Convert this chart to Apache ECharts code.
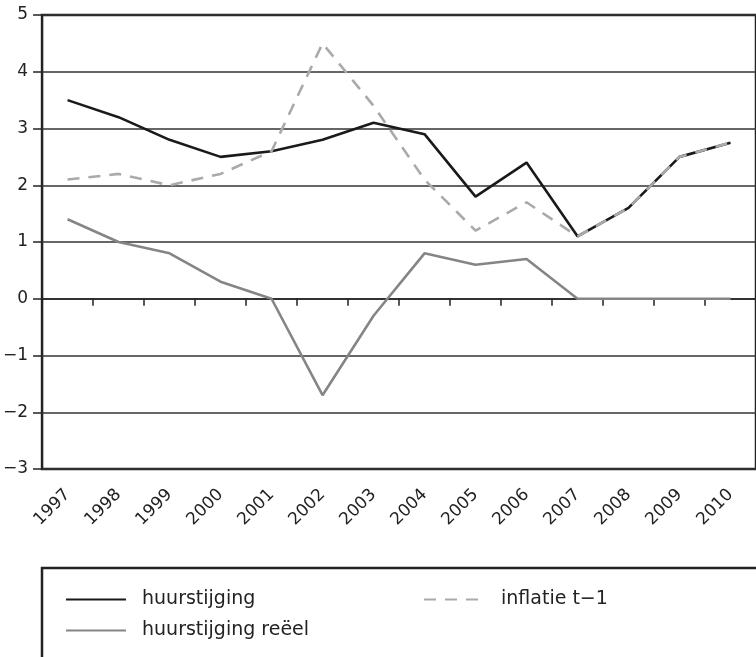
<!DOCTYPE html>
<html>
<head>
<meta charset="utf-8">
<script src="https://cdn.jsdelivr.net/npm/echarts@6/dist/echarts.min.js"></script>
<style>
html,body{margin:0;padding:0;background:#fff;}
#c{width:756px;height:657px;}
</style>
</head>
<body>
<div id="c"></div>
<script>
var years = ['1997','1998','1999','2000','2001','2002','2003','2004','2005','2006','2007','2008','2009','2010'];
var huurstijging = [3.5, 3.2, 2.8, 2.5, 2.6, 2.8, 3.1, 2.9, 1.8, 2.4, 1.1, 1.6, 2.5, 2.75];
var inflatie = [2.1, 2.2, 2.0, 2.2, 2.6, 4.5, 3.4, 2.1, 1.2, 1.7, 1.1, 1.6, 2.5, 2.75];
var reeel = [1.4, 1.0, 0.8, 0.3, 0.0, -1.7, -0.3, 0.8, 0.6, 0.7, 0.0, 0.0, 0.0, 0.0];
var yTicks = {min: -3, max: 5, interval: 1};
var names = ['huurstijging', 'huurstijging reëel', 'inflatie t−1'];

var FONT = 'DejaVu Sans';
var legendText = {fontSize: 19, fontFamily: FONT, color: '#222'};
var chart = echarts.init(document.getElementById('c'), null, {renderer: 'canvas'});
chart.setOption({
  animation: false,
  backgroundColor: '#fff',
  grid: {left: 42, top: 15, width: 719, height: 454, show: true, borderColor: '#222', borderWidth: 2.5, backgroundColor: 'transparent'},
  xAxis: [{
    type: 'category', data: years, boundaryGap: true, position: 'bottom',
    axisLine: {show: false, onZero: false},
    axisTick: {show: false},
    axisLabel: {rotate: 45, fontSize: 17, fontFamily: FONT, color: '#222', margin: 23, interval: 0},
    splitLine: {show: false}
  }, {
    type: 'category', data: years, boundaryGap: true, position: 'bottom',
    axisLine: {show: true, onZero: true, lineStyle: {color: '#222', width: 1.5}},
    axisTick: {show: true, length: 7, lineStyle: {color: '#222', width: 1.5}},
    axisLabel: {show: false},
    splitLine: {show: false}
  }],
  yAxis: {
    type: 'value', min: yTicks.min, max: yTicks.max, interval: yTicks.interval,
    axisLine: {show: false},
    axisTick: {show: true, length: 9, lineStyle: {color: '#222', width: 1.5}},
    axisLabel: {fontSize: 17, fontFamily: FONT, color: '#222', margin: 14,
      formatter: function (v) { return String(v).replace('-', '\u2212'); }},
    splitLine: {show: true, lineStyle: {color: '#333', width: 1.5}}
  },
  legend: [
    {data: [names[0]], left: 65, top: 590, padding: 0, itemWidth: 60, itemHeight: 14,
     itemStyle: {opacity: 0}, textStyle: Object.assign({padding: [0,0,0,11]}, legendText)},
    {data: [names[1]], left: 65, top: 621, padding: 0, itemWidth: 60, itemHeight: 14,
     itemStyle: {opacity: 0}, textStyle: Object.assign({padding: [0,0,0,11]}, legendText)},
    {data: [names[2]], left: 423, top: 590, padding: 0, itemWidth: 56, itemHeight: 14,
     itemStyle: {opacity: 0}, textStyle: Object.assign({padding: [0,0,0,16]}, legendText)}
  ],
  graphic: [{type: 'rect', shape: {x: 42, y: 568, width: 800, height: 200}, style: {fill: 'none', stroke: '#222', lineWidth: 2.5}, z: -1}],
  series: [
    {name: names[0], type: 'line', data: huurstijging, symbol: 'none', lineStyle: {color: '#1a1a1a', width: 2.6}, itemStyle: {color: '#1a1a1a'}, z: 3},
    {name: names[1], type: 'line', data: reeel, symbol: 'none', lineStyle: {color: '#858585', width: 2.6}, itemStyle: {color: '#858585'}, z: 3},
    {name: names[2], type: 'line', data: inflatie, symbol: 'none', lineStyle: {color: '#aaaaaa', width: 2.6, type: [12, 9]}, itemStyle: {color: '#aaaaaa'}, z: 4}
  ]
});
</script>
</body>
</html>
